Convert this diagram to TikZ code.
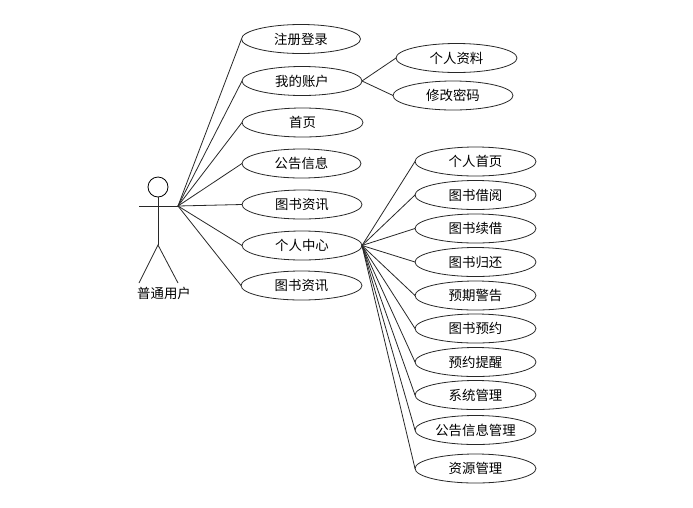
\documentclass[tikz,border=0pt]{standalone}
\usepackage{fontspec}
\setmainfont{Noto Sans CJK SC}
\definecolor{linegray}{RGB}{40,40,40}
\tikzset{
  usecase/.style={draw=linegray, ellipse, line width=0.8pt, fill=white, inner sep=0pt, outer sep=0pt, minimum height=29, font=\fontsize{13.4}{14}\selectfont},
  wire/.style={draw=linegray, line width=0.8pt}
}
\usetikzlibrary{shapes.geometric}

\begin{document}
\begin{tikzpicture}[x=1pt, y=-1pt]
\useasboundingbox[fill=white] (0,0) rectangle (693,507);

% Stick figure
\node[draw=black, circle, line width=0.8pt, minimum size=20, inner sep=0pt] (head) at (158,187) {};
\coordinate (handl) at (139,206);
\coordinate (hand) at (178,206);
\coordinate (hip) at (158,245);
\coordinate (footl) at (139,283);
\coordinate (footr) at (178,283);
\draw[wire] (head.south) -- (hip);
\draw[wire] (handl) -- (hand);
\draw[wire] (footl) -- (hip) -- (footr);
\node[font=\fontsize{13.4}{14}\selectfont, inner sep=0pt] (user) at (164,293) {普通用户};

% First level
\foreach \name/\x/\y/\w/\txt in {
  login/301/39/119/注册登录,
  account/302/81/120/我的账户,
  home/302.5/122.5/121/首页,
  notice/301.5/163.5/119/公告信息,
  news/302/204.5/120/图书资讯,
  center/302/245.5/120/个人中心,
  newsb/301.5/285.5/121/图书资讯} {
  \node[usecase, minimum width=\w] (\name) at (\x,\y) {\txt};
  \draw[wire] (hand) -- (\name.west);
}

% Account items
\foreach \name/\x/\y/\w/\txt in {
  profile/456.5/58/121/个人资料,
  passwd/453/95.5/120/修改密码} {
  \node[usecase, minimum width=\w] (\name) at (\x,\y) {\txt};
  \draw[wire] (account.east) -- (\name.west);
}

% Personal centre items
\foreach \name/\y/\txt in {
  mine/161.5/个人首页,
  borrow/195/图书借阅,
  renew/228.5/图书续借,
  giveback/262/图书归还,
  overdue/295.5/预期警告,
  reserve/328.5/图书预约,
  remind/362/预约提醒,
  system/395/系统管理,
  noticeadm/430/公告信息管理,
  resource/468.5/资源管理} {
  \node[usecase, minimum width=121] (\name) at (475.5,\y) {\txt};
  \draw[wire] (center.east) -- (\name.west);
}

\end{tikzpicture}
\end{document}
